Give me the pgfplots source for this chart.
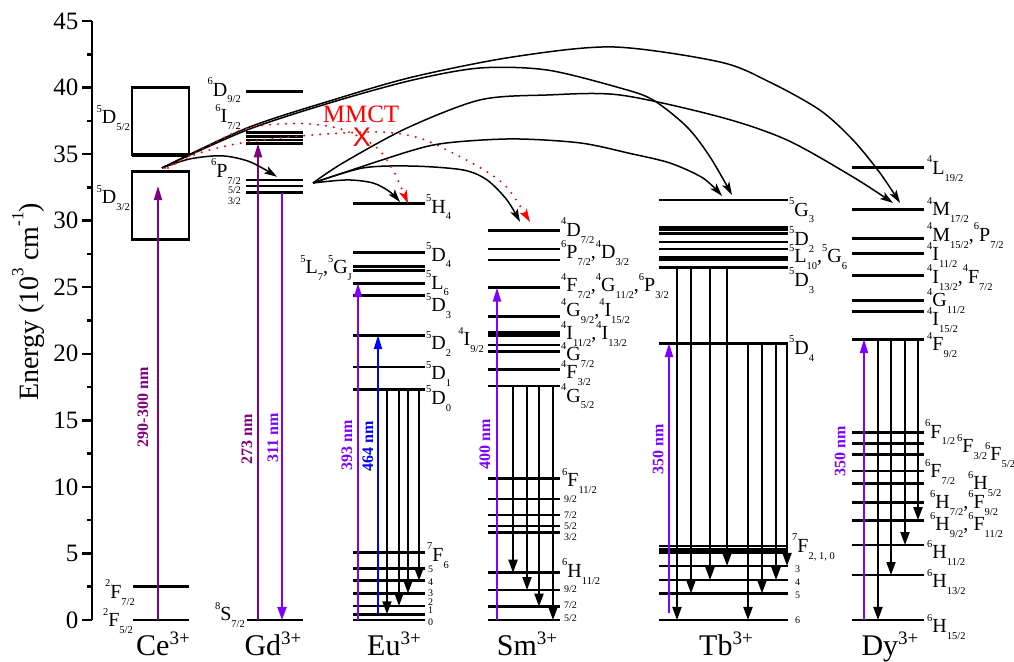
\documentclass[border=0pt]{standalone}
\usepackage{pgfplots}
\pgfplotsset{compat=1.18}
\usetikzlibrary{arrows.meta}
\usepackage{fontspec}
\setmainfont{Liberation Serif}
\setsansfont{Liberation Sans}
\definecolor{cpurple}{RGB}{128,0,128}
\definecolor{cviolet}{RGB}{128,0,255}
\definecolor{cblue}{RGB}{0,0,255}
\definecolor{cred}{RGB}{255,0,0}
\newcommand{\sps}[1]{\raisebox{0.58em}{\fontsize{10.5}{10.5}\selectfont #1}}
\newcommand{\sbs}[1]{\raisebox{-0.34em}{\fontsize{10.5}{10.5}\selectfont #1}}
\newcommand{\T}[3]{\sps{#1}#2\sbs{#3}}
\newcommand{\ysp}[1]{\raisebox{0.55em}{\fontsize{17}{17}\selectfont #1}}
\newcommand{\ion}[2]{#1\raisebox{11pt}{\fontsize{19}{19}\selectfont #2}}
\tikzset{
 lev/.style={line width=2.8pt},
 dn/.style={line width=2pt,-{Triangle[length=13pt,width=9pt]}},
 up/.style={line width=2pt,-{Triangle[length=14pt,width=8pt]}},
 cur/.style={line width=1.5pt,smooth,-{Stealth[length=13pt,width=8pt,inset=3pt]}},
 mm/.style={cred,line width=2.2pt,smooth,dash pattern=on 0pt off 8pt,line cap=round,-{Stealth[length=13pt,width=8pt,inset=3pt]}},
 lab/.style={font=\fontsize{20}{22}\selectfont,inner sep=0pt},
 sm/.style={font=\fontsize{10}{11}\selectfont,inner sep=0pt},
 wl/.style={font=\fontsize{16}{18}\selectfont\bfseries,rotate=90,inner sep=0pt},
 ionl/.style={font=\fontsize{30}{32}\selectfont,inner sep=0pt,anchor=base}
}
\newcommand{\lv}[3]{\addplot[lev] coordinates {(#1,#3) (#2,#3)};}
\begin{document}
\begin{tikzpicture}
\begin{axis}[
 name=ax, scale only axis, width=922pt, height=599pt,
 xmin=92, xmax=1014, ymin=0, ymax=45,
 axis x line=none, axis y line*=left, clip=false,
 ytick={0,5,...,45}, minor ytick={2.5,7.5,...,42.5},
 tick align=outside, major tick length=10pt, minor tick length=5pt,
 tick style={black,line width=2.5pt},
 y axis line style={line width=2.5pt},
 /pgf/number format/assume math mode=true,
 yticklabel style={font=\fontsize{25}{27}\selectfont},
 ylabel={Energy (10\ysp{3} cm\ysp{-1})},
 ylabel style={font=\fontsize{28}{30}\selectfont, at={(axis description cs:-0.069,0.531)}, anchor=center},
]
% ---------- Ce3+
\addplot[lev,line width=2.8pt,line cap=rect] coordinates {(132,35) (189,35) (189,40) (132,40) (132,35)};
\addplot[lev,line width=2.8pt,line cap=rect] coordinates {(132,28.6) (189,28.6) (189,33.7) (132,33.7) (132,28.6)};
\lv{132}{189}{34.88}
\lv{133}{189}{2.5}
\lv{133}{189}{0}
% ---------- Gd3+
\lv{246}{303}{39.7}
\lv{246}{303}{36.6}
\lv{246}{303}{36.35}
\lv{246}{303}{36.06}
\lv{246}{303}{35.8}
\lv{246}{303}{33.06}
\lv{246}{303}{32.6}
\lv{246}{303}{32.1}
\lv{247}{303}{0}
% ---------- Eu3+
\lv{353}{425}{31.3}
\lv{353}{425}{27.6}
\lv{353}{425}{26.55}
\lv{353}{425}{26.25}
\lv{353}{425}{25.3}
\lv{353}{425}{24.4}
\lv{353}{425}{21.4}
\lv{353}{425}{19.0}
\lv{353}{425}{17.3}
\lv{353}{425}{5.06}
\lv{353}{425}{3.88}
\lv{353}{425}{2.95}
\lv{353}{425}{2.0}
\lv{353}{425}{1.05}
\lv{353}{425}{0.43}
\lv{353}{425}{0}
% ---------- Sm3+
\lv{488}{560}{29.25}
\lv{488}{560}{27.87}
\lv{488}{560}{27.05}
\lv{488}{560}{24.97}
\lv{488}{560}{22.8}
\lv{488}{560}{21.6}
\lv{488}{560}{21.4}
\lv{488}{560}{20.66}
\lv{488}{560}{20.2}
\lv{488}{560}{18.8}
\lv{488}{560}{17.58}
\lv{488}{560}{10.6}
\lv{488}{560}{9.09}
\lv{488}{560}{7.89}
\lv{488}{560}{7.06}
\lv{488}{560}{6.56}
\lv{488}{560}{3.55}
\lv{488}{560}{2.25}
\lv{488}{560}{1.0}
\lv{488}{560}{0}
% ---------- Tb3+
\lv{659}{788}{31.55}
\lv{659}{788}{29.5}
\lv{659}{788}{29.3}
\lv{659}{788}{29.05}
\lv{659}{788}{28.4}
\lv{659}{788}{27.87}
\lv{659}{788}{27.25}
\lv{659}{788}{27.05}
\lv{659}{788}{26.5}
\lv{659}{788}{20.8}
\lv{659}{788}{5.56}
\lv{659}{788}{5.31}
\lv{659}{788}{5.06}
\lv{659}{788}{4.06}
\lv{659}{788}{3.0}
\lv{659}{788}{2.0}
\lv{659}{788}{0}
% ---------- Dy3+
\lv{852}{924}{34.0}
\lv{852}{924}{30.86}
\lv{852}{924}{28.65}
\lv{852}{924}{27.55}
\lv{852}{924}{25.85}
\lv{852}{924}{24.0}
\lv{852}{924}{23.2}
\lv{852}{924}{21.1}
\lv{852}{924}{14.1}
\lv{852}{924}{13.28}
\lv{852}{924}{12.45}
\lv{852}{924}{11.2}
\lv{852}{924}{10.27}
\lv{852}{924}{8.8}
\lv{852}{924}{7.5}
\lv{852}{924}{5.63}
\lv{852}{924}{3.38}
\lv{852}{924}{0}
% ---------- excitation arrows
\addplot[up,cpurple,line width=1.6pt] coordinates {(158,0) (158,32.6)};
\addplot[up,cpurple] coordinates {(258,0) (258,35.8)};
\addplot[dn,cviolet] coordinates {(282,32.1) (282,0)};
\addplot[up,cviolet] coordinates {(358,0) (358,25.3)};
\addplot[up,cblue] coordinates {(378,0.43) (378,21.4)};
\addplot[up,cviolet] coordinates {(497,0) (497,24.97)};
\addplot[up,cviolet] coordinates {(669,0.5) (669,20.8)};
\addplot[up,cviolet] coordinates {(864,0) (864,21.1)};
% ---------- emission arrows
\addplot[dn] coordinates {(387,17.3) (387,0.43)};
\addplot[dn] coordinates {(399,17.3) (399,1.05)};
\addplot[dn] coordinates {(408,17.3) (408,2.0)};
\addplot[dn] coordinates {(419,17.3) (419,2.95)};
\addplot[dn] coordinates {(513,17.58) (513,3.55)};
\addplot[dn] coordinates {(527,17.58) (527,2.25)};
\addplot[dn] coordinates {(539,17.58) (539,1.0)};
\addplot[dn] coordinates {(553,17.58) (553,0)};
\addplot[dn] coordinates {(677,26.5) (677,0)};
\addplot[dn] coordinates {(691,26.5) (691,2.0)};
\addplot[dn] coordinates {(710,26.5) (710,3.0)};
\addplot[dn] coordinates {(727,26.5) (727,4.06)};
\addplot[dn] coordinates {(748,20.8) (748,0)};
\addplot[dn] coordinates {(762,20.8) (762,2.0)};
\addplot[dn] coordinates {(776,20.8) (776,3.0)};
\addplot[dn] coordinates {(787,20.8) (787,4.06)};
\addplot[dn] coordinates {(878,21.1) (878,0)};
\addplot[dn] coordinates {(891,21.1) (891,3.38)};
\addplot[dn] coordinates {(905,21.1) (905,5.63)};
\addplot[dn] coordinates {(918,21.1) (918,7.5)};
% ---------- energy transfer curves
\addplot[cur] coordinates {(162,33.96) (190,34.64) (222,34.87) (250,34.42) (277,33.3)};
\addplot[cur] coordinates {(162,33.96) (247,36.96) (333,39.07) (413,40.8) (513,42.3) (613,43.05) (720,41.92) (770,40.4) (820,38.3) (853,36.06) (880,33.58) (900,31.33)};
\addplot[cur] coordinates {(162,33.96) (247,36.81) (333,38.92) (413,40.57) (480,41.47) (547,41.32) (620,39.97) (653,39.07) (687,37.04) (710,34.79) (732,31.93)};
\addplot[cur] coordinates {(313,32.83) (347,33.06) (373,32.83) (390,32.16) (400,31.4)};
\addplot[cur] coordinates {(313,32.83) (363,33.96) (413,34.1) (463,33.81) (487,33.06) (507,31.55) (520,29.9)};
\addplot[cur] coordinates {(313,32.83) (407,35.16) (447,35.84) (513,36.14) (580,35.84) (630,35.05) (670,34.33) (703,33.2) (722,31.86)};
\addplot[cur] coordinates {(313,32.83) (343,34.34) (407,36.96) (480,39.07) (547,39.44) (620,39.44) (720,37.79) (787,36.06) (853,33.28) (893,31.33)};
% ---------- MMCT dotted
\addplot[mm] coordinates {(168,33.96) (200,35.3) (247,36.96) (300,37.3) (340,36.9) (375,35.6) (393,33.8) (408,31.3)};
\addplot[mm] coordinates {(165,33.96) (200,35.1) (247,35.91) (313,36.44) (380,36.66) (420,36.2) (455,35.0) (482,33.9) (507,32.5) (530,29.9)};
\node[cred,font=\fontsize{25}{27}\selectfont,inner sep=0pt] at (361,38.0) {MMCT};
\node[cred,font=\fontsize{27}{29}\selectfont\sffamily,inner sep=0pt] at (362,36.3) {X};
% ---------- wavelength labels
\node[wl,cpurple] at (143,15.97) {290-300 nm};
\node[wl,cpurple] at (247,13.6) {273 nm};
\node[wl,cviolet] at (273,13.67) {311 nm};
\node[wl,cviolet] at (347,13.15) {393 nm};
\node[wl,cblue] at (368,13.07) {464 nm};
\node[wl,cviolet] at (485,13.2) {400 nm};
\node[wl,cviolet] at (658,12.85) {350 nm};
\node[wl,cviolet] at (840,12.7) {350 nm};
% ---------- Ce labels
\node[lab,anchor=east] at (130,37.72) {\T{5}{D}{5/2}};
\node[lab,anchor=east] at (130,31.7) {\T{5}{D}{3/2}};
\node[lab,anchor=east] at (135,2.07) {\T{2}{F}{7/2}};
\node[lab,anchor=east] at (133,-0.08) {\T{2}{F}{5/2}};
% ---------- Gd labels
\node[lab,anchor=east] at (241,39.8) {\T{6}{D}{9/2}};
\node[lab,anchor=east] at (241,37.8) {\T{6}{I}{7/2}};
\node[lab,anchor=east] at (241,33.7) {\T{6}{P}{7/2}};
\node[sm,anchor=east] at (241,32.3) {5/2};
\node[sm,anchor=east] at (241,31.45) {3/2};
\node[lab,anchor=east] at (245,0.38) {\T{8}{S}{7/2}};
% ---------- Eu labels
\node[lab,anchor=west] at (426,31.0) {\T{5}{H}{4}};
\node[lab,anchor=west] at (426,27.4) {\T{5}{D}{4}};
\node[lab,anchor=west] at (426,25.3) {\T{5}{L}{6}};
\node[lab,anchor=west] at (426,23.6) {\T{5}{D}{3}};
\node[lab,anchor=west] at (426,20.74) {\T{5}{D}{2}};
\node[lab,anchor=west] at (426,18.48) {\T{5}{D}{1}};
\node[lab,anchor=west] at (426,16.64) {\T{5}{D}{0}};
\node[lab,anchor=west] at (427,4.85) {\T{7}{F}{6}};
\node[sm,anchor=west] at (428,3.8) {5};
\node[sm,anchor=west] at (428,2.85) {4};
\node[sm,anchor=west] at (428,2.0) {3};
\node[sm,anchor=west] at (428,1.35) {2};
\node[sm,anchor=west] at (428,0.7) {1};
\node[sm,anchor=west] at (428,-0.15) {0};
\node[lab,anchor=east] at (352,26.45) {\T{5}{L}{7},\T{5}{G}{J}};
% ---------- Sm labels
\node[lab,anchor=west] at (561,29.26) {\T{4}{D}{7/2}};
\node[lab,anchor=west] at (561,27.57) {\T{6}{P}{7/2},\T{4}{D}{3/2}};
\node[lab,anchor=west] at (561,25.09) {\T{4}{F}{7/2},\T{4}{G}{11/2},\T{6}{P}{3/2}};
\node[lab,anchor=west] at (561,23.2) {\T{4}{G}{9/2},\T{4}{I}{15/2}};
\node[lab,anchor=west] at (561,21.5) {\T{4}{I}{11/2},\T{4}{I}{13/2}};
\node[lab,anchor=west] at (561,19.9) {\T{4}{G}{7/2}};
\node[lab,anchor=west] at (561,18.56) {\T{4}{F}{3/2}};
\node[lab,anchor=west] at (561,16.8) {\T{4}{G}{5/2}};
\node[lab,anchor=east] at (484,21.04) {\T{4}{I}{9/2}};
\node[lab,anchor=west] at (562,10.44) {\T{6}{F}{11/2}};
\node[sm,anchor=west] at (564,9.09) {9/2};
\node[sm,anchor=west] at (564,7.89) {7/2};
\node[sm,anchor=west] at (564,7.06) {5/2};
\node[sm,anchor=west] at (564,6.24) {3/2};
\node[lab,anchor=west] at (562,3.64) {\T{6}{H}{11/2}};
\node[sm,anchor=west] at (564,2.33) {9/2};
\node[sm,anchor=west] at (564,1.13) {7/2};
\node[sm,anchor=west] at (564,0.15) {5/2};
% ---------- Tb labels
\node[lab,anchor=west] at (789,30.77) {\T{5}{G}{3}};
\node[lab,anchor=west] at (789,28.59) {\T{5}{D}{2}};
\node[lab,anchor=west] at (789,27.27) {\T{5}{L}{10},\T{5}{G}{6}};
\node[lab,anchor=west] at (789,25.5) {\T{5}{D}{3}};
\node[lab,anchor=west] at (789,20.4) {\T{5}{D}{4}};
\node[lab,anchor=west] at (792,5.45) {\T{7}{F}{2, 1, 0}};
\node[sm,anchor=west] at (795,3.83) {3};
\node[sm,anchor=west] at (795,2.85) {4};
\node[sm,anchor=west] at (795,1.88) {5};
\node[sm,anchor=west] at (795,0) {6};
% ---------- Dy labels
\node[lab,anchor=west] at (927,33.92) {\T{4}{L}{19/2}};
\node[lab,anchor=west] at (927,30.8) {\T{4}{M}{17/2}};
\node[lab,anchor=west] at (927,28.89) {\T{4}{M}{15/2},\T{6}{P}{7/2}};
\node[lab,anchor=west] at (927,27.42) {\T{4}{I}{11/2}};
\node[lab,anchor=west] at (927,25.73) {\T{4}{I}{13/2},\T{4}{F}{7/2}};
\node[lab,anchor=west] at (927,23.97) {\T{4}{G}{11/2}};
\node[lab,anchor=west] at (927,22.54) {\T{4}{I}{15/2}};
\node[lab,anchor=west] at (927,20.66) {\T{4}{F}{9/2}};
\node[lab,anchor=west] at (925,14.1) {\T{6}{F}{1/2}};
\node[lab,anchor=west] at (957,13.0) {\T{6}{F}{3/2}};
\node[lab,anchor=west] at (985,12.4) {\T{6}{F}{5/2}};
\node[lab,anchor=west] at (925,11.12) {\T{6}{F}{7/2}};
\node[lab,anchor=west] at (968,10.22) {\T{6}{H}{5/2}};
\node[lab,anchor=west] at (930,8.79) {\T{6}{H}{7/2},\T{6}{F}{9/2}};
\node[lab,anchor=west] at (930,7.14) {\T{6}{H}{9/2},\T{6}{F}{11/2}};
\node[lab,anchor=west] at (927,5.03) {\T{6}{H}{11/2}};
\node[lab,anchor=west] at (927,2.85) {\T{6}{H}{13/2}};
\node[lab,anchor=west] at (927,-0.53) {\T{6}{H}{15/2}};
% ---------- ion labels
\node[ionl] at (163,-2.63) {\ion{Ce}{3+}};
\node[ionl] at (273,-2.63) {\ion{Gd}{3+}};
\node[ionl] at (394,-2.63) {\ion{Eu}{3+}};
\node[ionl] at (527,-2.63) {\ion{Sm}{3+}};
\node[ionl] at (726,-2.63) {\ion{Tb}{3+}};
\node[ionl] at (890,-2.63) {\ion{Dy}{3+}};
\end{axis}
\pgfresetboundingbox
\path[use as bounding box] ([shift={(-92pt,-42pt)}]ax.south west) rectangle ([shift={(0pt,21pt)}]ax.north east);
\end{tikzpicture}
\end{document}
